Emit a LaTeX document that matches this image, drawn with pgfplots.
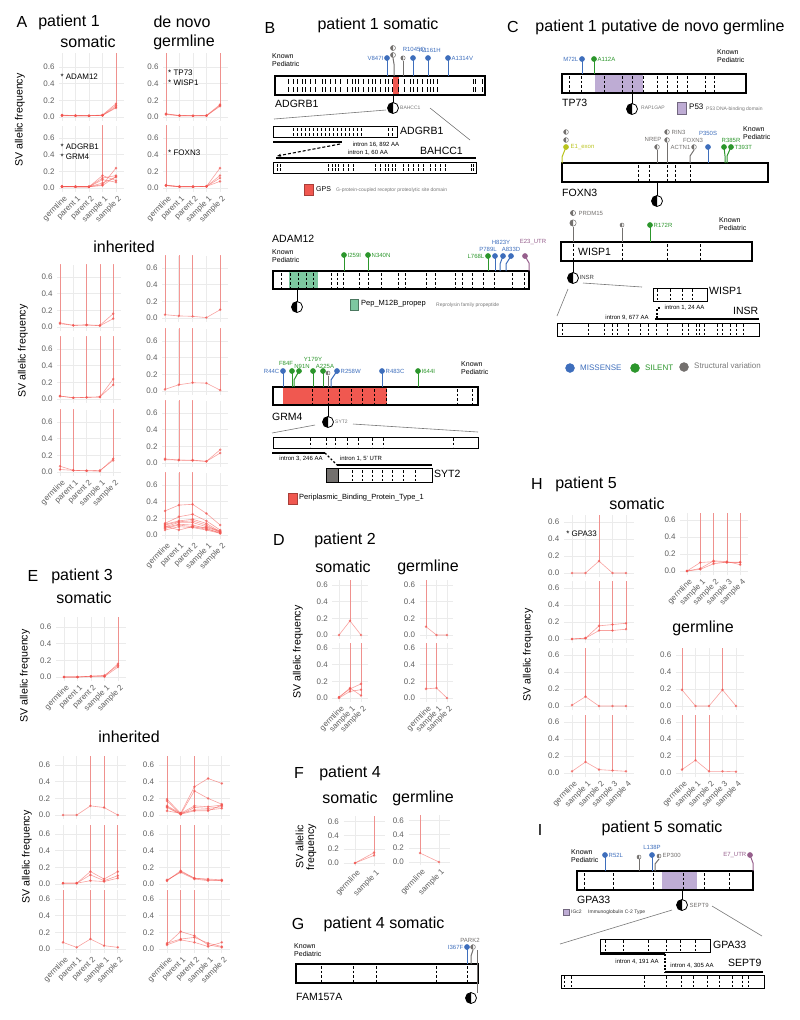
\documentclass[border=0pt]{standalone}
\usepackage{fontspec}
\setmainfont{Liberation Sans}
\usepackage{pgfplots}
\pgfplotsset{compat=1.18}
\usetikzlibrary{arrows.meta}

\definecolor{afred}{RGB}{242,85,80}
\definecolor{gridgrey}{RGB}{235,235,235}
\definecolor{tickgrey}{RGB}{95,95,95}
\definecolor{mis}{RGB}{62,110,188}
\definecolor{sil}{RGB}{44,150,44}
\definecolor{svc}{RGB}{115,112,110}
\definecolor{utr}{RGB}{150,95,140}
\definecolor{exo}{RGB}{185,195,30}
\definecolor{gps}{RGB}{240,88,80}
\definecolor{pep}{RGB}{125,200,160}
\definecolor{p53}{RGB}{190,172,212}
\definecolor{dgrey}{RGB}{120,120,120}

\newcommand\fs[1]{\fontsize{#1}{#1}\selectfont}

\pgfplotsset{
  af/.style={anchor=origin, y=83pt, ymin=-0.05, ymax=0.75, xmin=-0.6, xmax=4.6,
    axis line style={draw=none}, major tick style={draw=none},
    xmajorgrids, ymajorgrids, major grid style={draw=gridgrey, line width=0.7pt},
    ytick={0,0.2,0.4,0.6}, xtick={0,...,4}, xticklabels={},
    yticklabel style={font=\fs{8}, text=tickgrey, inner sep=1.5pt, xshift=-3pt,
      /pgf/number format/fixed, /pgf/number format/fixed zerofill,
      /pgf/number format/precision=1, /pgf/number format/assume math mode=true},
    xticklabel style={font=\fs{8}, text=tickgrey, rotate=45, anchor=north east, inner sep=1pt, yshift=-2pt}},
  afl/.style={afred, opacity=0.55, line width=0.6pt, mark=*, mark size=1pt},
  vred/.style={afred, opacity=0.6, line width=0.6pt},
  five/.style={xticklabels={germline,parent 1,parent 2,sample 1,sample 2}},
  samp/.style={xticklabels={germline,sample 1,sample 2,sample 3,sample 4}},
  three/.style={xtick={0,1,2}, xmax=2.6, xticklabels={germline,sample 1,sample 2}},
  two/.style={xtick={0,1}, xmax=1.6, xticklabels={germline,sample 1}},
}
\tikzset{
  bx/.style={line width=1.1pt, black},
  dsh/.style={line width=0.9pt, dash pattern=on 2.5pt off 2pt},
  tk/.style={line width=0.8pt},
  lbl/.style={font=\fs{6}, inner sep=0.5pt},
  gn/.style={font=\fs{10.5}, inner sep=0pt, anchor=west},
  ttl/.style={font=\fs{16}, inner sep=0pt},
  kp/.style={font=\fontsize{7}{8.4}\selectfont, align=left, anchor=north west, inner sep=0pt},
  sm/.style={font=\fs{5}, text=dgrey, inner sep=0pt, anchor=west},
  yl/.style={font=\fs{10.6}, rotate=90, inner sep=0pt, align=center},
  afn/.style={font=\fontsize{8}{9.6}\selectfont, anchor=west, align=left, inner sep=0pt},
}

\newcommand\fv[5]{\addplot[afl] coordinates {(0,#1)(1,#2)(2,#3)(3,#4)(4,#5)};}
\newcommand\tv[3]{\addplot[afl] coordinates {(0,#1)(1,#2)(2,#3)};}
\newcommand\wv[2]{\addplot[afl] coordinates {(0,#1)(1,#2)};}
\newcommand\vl[2]{\addplot[vred] coordinates {(#1,#2)(#1,1)};}

\newcommand\lol[4]{\addplot[#1, line width=1pt, mark=*, mark size=2.3pt, mark indices={2}] coordinates {(#2,#3)(#2,#4)};}
\newcommand\lolb[7]{\addplot[#1, line width=1pt, mark=*, mark size=2.3pt, mark indices={3}] coordinates {(#2,#3)(#4,#5)(#6,#7)};}
\newcommand\dsh[3]{\pgfplotsinvokeforeach{#1}{\draw[dsh] (##1,#2)--(##1,#3);}}
\newcommand\tks[3]{\pgfplotsinvokeforeach{#1}{\draw[tk] (##1,#2)--(##1,#3);}}
\newcommand\hm[4]{\draw[#1, fill=white, line width=0.5pt] (#2,#3) circle[radius=#4pt];
  \fill[#1] (#2,#3) +(0pt,#4pt) arc[start angle=90, end angle=270, radius=#4pt] -- cycle;}
\newcommand\fus[2]{\draw[black, fill=white, line width=0.8pt] (#1,#2) circle[radius=5.5pt];
  \fill[black] (#1,#2) +(0pt,5.5pt) arc[start angle=90, end angle=270, radius=5.5pt] -- cycle;}

\begin{document}
\begin{tikzpicture}
\useasboundingbox (0,0) rectangle (800pt,-1020pt);

%================ canvas for titles and gene diagrams
\begin{axis}[at={(0pt,0pt)}, anchor=north west, scale only axis, width=800pt, height=1020pt,
  xmin=0, xmax=800, ymin=0, ymax=1020, y dir=reverse, hide axis, clip=false]

% ---------- panel titles
\node[ttl] at (22,22) {A};
\node[ttl] at (69,22) {patient 1};
\node[ttl] at (88,42) {somatic};
\node[ttl] at (182,22) {de novo};
\node[ttl] at (184,42) {germline};
\node[ttl] at (124,247) {inherited};
\node[yl] at (20,120) {SV allelic frequency};
\node[yl] at (23,351) {SV allelic frequency};

\node[ttl] at (33,576) {E};
\node[ttl] at (82,576) {patient 3};
\node[ttl] at (84,598) {somatic};
\node[ttl] at (129,737) {inherited};
\node[yl] at (25,676) {SV allelic frequency};
\node[yl] at (27,857) {SV allelic frequency};

\node[ttl] at (279,540) {D};
\node[ttl] at (345,540) {patient 2};
\node[ttl] at (343,567) {somatic};
\node[ttl] at (428,567) {germline};
\node[yl] at (298,652) {SV allelic frequency};

\node[ttl] at (299,773) {F};
\node[ttl] at (350,773) {patient 4};
\node[ttl] at (350,798) {somatic};
\node[ttl] at (423,798) {germline};
\node[yl] at (306,847) {SV allelic\\frequency};

\node[ttl] at (537,484) {H};
\node[ttl] at (586,484) {patient 5};
\node[ttl] at (637,504) {somatic};
\node[ttl] at (703,628) {germline};
\node[yl] at (528,655) {SV allelic frequency};

% ---------- B: ADGRB1 / BAHCC1
\node[ttl] at (270,28) {B};
\node[ttl] at (378,25) {patient 1 somatic};
\node[kp] at (272,53) {Known\\Pediatric};
\fill[gps] (393,76) rectangle (399,95);
\draw[bx] (275,76) rectangle (485,95);
\tks{288,293,297,302,305,310,315,322,325,330,335,340,347,352,355,358,363,368,372,375,380,385,388,392,398,404,410,413,417,422,427,430,433,437,473,475,482}{79}{84}
\tks{288,293,297,302,305,310,315,322,325,330,335,340,347,352,355,358,363,368,372,375,380,385,388,392,398,404,410,413,417,422,427,430,433,437,473,475,482}{87}{92}
\lol{mis}{387}{76}{58}
\node[lbl, text=mis, anchor=east] at (384,58) {V847I};
\addplot[svc, line width=1pt] coordinates {(394,76)(394,64)(393,58)};
\hm{svc}{393}{55}{2.5}
\hm{svc}{393}{48}{2.5}
\addplot[svc, line width=1pt] coordinates {(403,76)(403,61)};
\hm{svc}{403}{58}{2.2}
\lol{mis}{413}{76}{58}
\node[lbl, text=mis] at (414,50) {R1045Q};
\lol{mis}{428}{76}{58}
\node[lbl, text=mis] at (430,50) {R1161H};
\lol{mis}{448}{76}{58}
\node[lbl, text=mis, anchor=west] at (451,58) {A1314V};
\node[gn] at (275,104) {ADGRB1};
\draw[line width=1pt] (393,95)--(393,103);
\fus{393}{108}
\node[sm] at (400,108) {BAHCC1};
\draw[dgrey, line width=0.6pt] (386,110)--(274,119);
\draw[dgrey, line width=0.6pt] (430,108)--(470,140);
\draw[line width=0.9pt] (273,126) rectangle (397,137);
\tks{293,297,301,305,309,313,317,321,325,329,333,337,341,345,349,353,357,361,388,392}{128}{131}
\tks{293,297,301,305,309,313,317,321,325,329,333,337,341,345,349,353,357,361,388,392}{133}{136}
\node[gn] at (400,131) {ADGRB1};
\draw[line width=1.1pt] (273,142)--(342,142);
\draw[line width=1.1pt, dash pattern=on 3pt off 2pt, -{Stealth[length=4pt]}] (340,144)--(277,156);
\node[lbl] at (376,145) {intron 16, 892 AA};
\node[lbl] at (368,153) {intron 1, 60 AA};
\draw[line width=1.1pt] (276,158)--(476,158);
\node[gn] at (420,151) {BAHCC1};
\draw[line width=0.9pt] (273,162) rectangle (476,173);
\tks{277,280,328,332,335,338,343,348,353,375,380,385,388,392,395,403,408,413,418,423,430,435,440,445,471,473}{164}{167}
\tks{277,280,328,332,335,338,343,348,353,375,380,385,388,392,395,403,408,413,418,423,430,435,440,445,471,473}{168}{171}
\filldraw[fill=gps, draw=gps!70!black, line width=0.5pt] (304,184) rectangle (313,195);
\node[font=\fs{7}, anchor=west, inner sep=0pt] at (316,189) {GPS};
\node[sm] at (336,190) {G-protein-coupled receptor proteolytic site domain};

% ---------- B: ADAM12
\node[gn] at (272,239) {ADAM12};
\node[kp] at (272,249) {Known\\Pediatric};
\fill[pep] (289,271) rectangle (318,289);
\draw[bx] (273,271) rectangle (529,289);
\dsh{281,290,298,306,313,331,337,343,359,368,381,398,405,426,435,455,462,472,483,494,512,524}{273}{288}
\lol{sil}{344}{271}{255}
\node[lbl, text=sil, anchor=west] at (347,255) {I259I};
\lol{sil}{368}{271}{255}
\node[lbl, text=sil, anchor=west] at (371,255) {N340N};
\lol{sil}{488}{271}{256}
\node[lbl, text=sil, anchor=east] at (485,256) {L768L};
\lol{mis}{495}{271}{256}
\node[lbl, text=mis] at (488,249) {P789L};
\lolb{mis}{500}{271}{500}{264}{503}{256}
\node[lbl, text=mis] at (501,242) {H823Y};
\lolb{mis}{506}{271}{506}{264}{511}{256}
\node[lbl, text=mis] at (511,249) {A833D};
\lolb{utr}{529}{271}{529}{263}{525}{256}
\node[lbl, text=utr] at (533,242) {E23\_UTR};
\draw[line width=1pt] (297,289)--(297,302);
\fus{297}{307}
\filldraw[fill=pep, draw=pep!60!black, line width=0.5pt] (350,299) rectangle (358,310);
\node[font=\fs{7.5}, anchor=west, inner sep=0pt] at (361,304) {Pep\_M12B\_propep};
\node[sm] at (436,305) {Reprolysin family propeptide};

% ---------- B: GRM4 / SYT2
\fill[gps] (283,387) rectangle (387,405);
\draw[bx] (273,387) rectangle (478,405);
\dsh{312,328,339,351,362,374,386,457,472}{389}{404}
\lol{mis}{283}{387}{371}
\node[lbl, text=mis, anchor=east] at (280,371) {R44C};
\lol{sil}{292}{387}{371}
\node[lbl, text=sil] at (286,363) {F84F};
\lolb{sil}{294}{387}{294}{380}{299}{371}
\node[lbl, text=sil] at (302,366) {N91N};
\lol{sil}{313}{387}{371}
\node[lbl, text=sil] at (313,359) {Y179Y};
\lol{sil}{323}{387}{371}
\node[lbl, text=sil] at (325,366) {A225A};
\addplot[svc, line width=1pt] coordinates {(328,387)(328,376)};
\hm{svc}{328}{373}{2}
\lolb{mis}{331}{387}{331}{380}{337}{371}
\node[lbl, text=mis, anchor=west] at (340,371) {R258W};
\lol{mis}{382}{387}{371}
\node[lbl, text=mis, anchor=west] at (385,371) {R483C};
\lol{sil}{418}{387}{371}
\node[lbl, text=sil, anchor=west] at (421,371) {I644I};
\node[kp] at (461,361) {Known\\Pediatric};
\node[gn] at (272,417) {GRM4};
\draw[line width=1pt] (328,405)--(328,417);
\fus{328}{422}
\node[sm] at (335,422) {SYT2};
\draw[dgrey, line width=0.6pt] (272,433)--(315,425);
\draw[dgrey, line width=0.6pt] (353,424)--(478,432);
\draw[line width=0.9pt] (273,437) rectangle (478,448);
\dsh{310,326,335,347,358,372,383,453}{438}{447}
\draw[line width=1.1pt] (272,453)--(325,453);
\draw[line width=1.1pt, dash pattern=on 2pt off 2pt] (325,453)--(337,465);
\draw[line width=1.1pt] (337,465)--(432,465);
\node[lbl] at (301,459) {intron 3, 246 AA};
\node[lbl] at (361,459) {intron 1, 5' UTR};
\filldraw[fill=svc, draw=black, line width=0.9pt] (326,468) rectangle (338,482);
\draw[line width=0.9pt] (338,468) rectangle (432,482);
\dsh{352,362,372,382,392,403,415}{470}{481}
\node[gn] at (434,474) {SYT2};
\filldraw[fill=gps, draw=gps!70!black, line width=0.5pt] (288,493) rectangle (297,504);
\node[font=\fs{7.5}, anchor=west, inner sep=0pt] at (299,498) {Periplasmic\_Binding\_Protein\_Type\_1};

% ---------- C: TP73
\node[ttl] at (513,27) {C};
\node[ttl] at (660,27) {patient 1 putative de novo germline};
\fill[p53] (595,74) rectangle (643,93);
\draw[bx] (562,74) rectangle (746,93);
\dsh{569,581,604,622,632,643,657,667,677,687,705,714}{76}{92}
\lol{mis}{582}{74}{59}
\node[lbl, text=mis, anchor=east] at (579,59) {M72L};
\lol{sil}{594}{74}{59}
\node[lbl, text=sil, anchor=west] at (597,59) {A112A};
\node[kp] at (717,49) {Known\\Pediatric};
\node[gn] at (562,103) {TP73};
\draw[line width=1pt] (632,93)--(632,104);
\fus{632}{109}
\node[sm] at (641,108) {RAP1GAP};
\filldraw[fill=p53, draw=p53!60!black, line width=0.5pt] (677,102) rectangle (686,114);
\node[font=\fs{8}, anchor=west, inner sep=0pt] at (689,107) {P53};
\node[sm] at (706,109) {P53 DNA-binding domain};

% ---------- C: FOXN3
\draw[bx] (562,163) rectangle (768,182);
\dsh{638,649,667,675,690}{165}{181}
\lolb{exo}{562}{163}{562}{157}{566}{147}
\hm{svc}{566}{140}{2.4}
\hm{svc}{566}{132}{2.4}
\node[lbl, text=exo, anchor=west] at (570,147) {E1\_exon};
\addplot[svc, line width=1pt] coordinates {(657,163)(657,150)};
\hm{svc}{657}{147}{2.4}
\node[lbl, text=svc] at (653,139) {NREP};
\addplot[svc, line width=1pt] coordinates {(667,163)(667,143)};
\hm{svc}{667}{140}{2.4}
\hm{svc}{667}{132}{2.4}
\node[lbl, text=svc, anchor=west] at (671,132) {RIN3};
\node[lbl, text=svc, anchor=west] at (670,147) {ACTN1};
\node[lbl, text=svc] at (693,140) {FOXN3};
\addplot[svc, line width=1pt] coordinates {(690,163)(690,156)(694,150)};
\hm{svc}{694}{147}{2.4}
\lol{mis}{708}{163}{147}
\node[lbl, text=mis] at (708,133) {P350S};
\lolb{sil}{725}{163}{725}{156}{724}{147}
\node[lbl, text=sil] at (731,140) {R385R};
\lolb{sil}{727}{163}{727}{156}{731}{147}
\node[lbl, text=sil, anchor=west] at (734,147) {T393T};
\node[kp] at (743,126) {Known\\Pediatric};
\node[gn] at (562,193) {FOXN3};
\draw[line width=1pt] (657,182)--(657,196);
\fus{657}{201}

% ---------- C: WISP1 / INSR
\draw[bx] (561,242) rectangle (752,261);
\dsh{573,622,667,700}{244}{260}
\node[gn] at (578,252) {WISP1};
\addplot[svc, line width=1pt] coordinates {(573,242)(573,227)};
\hm{svc}{573}{223}{3.2}
\hm{svc}{573}{213}{2.6}
\node[lbl, text=svc, anchor=west] at (578,213) {PRDM15};
\addplot[svc, line width=1pt] coordinates {(622,242)(622,228)};
\hm{svc}{622}{225}{2}
\lol{sil}{650}{242}{225}
\node[lbl, text=sil, anchor=west] at (653,225) {R172R};
\node[kp] at (719,217) {Known\\Pediatric};
\draw[line width=1pt] (573,261)--(573,273);
\fus{573}{278}
\node[lbl, text=black!75, anchor=west] at (579,277) {INSR};
\draw[dgrey, line width=0.6pt] (568,289)--(557,316);
\draw[dgrey, line width=0.6pt] (583,283)--(642,287);
\draw[line width=0.9pt] (653,288) rectangle (707,301);
\dsh{657,670,682,692}{289}{300}
\node[gn] at (709,291) {WISP1};
\draw[line width=1.1pt, dash pattern=on 2pt off 1.5pt] (657,318)--(657,308)--(661,308);
\node[lbl, anchor=west] at (664,308) {intron 1, 24 AA};
\draw[line width=1.1pt] (655,319)--(759,319);
\node[gn] at (733,311) {INSR};
\node[lbl] at (627,318) {intron 9, 677 AA};
\draw[line width=0.9pt] (557,323) rectangle (759,336);
\dsh{562,588,604,612,617,628,640,648,656,667,682,688,696,699,704,717,722,730,736,743}{324}{335}
\addplot[only marks, mark=*, mark size=4.5pt, color=mis] coordinates {(570,368)};
\addplot[only marks, mark=*, mark size=4.5pt, color=sil] coordinates {(635,368)};
\addplot[only marks, mark=*, mark size=4.5pt, color=svc] coordinates {(684,367)};
\node[font=\fs{8}, text=mis, anchor=west, inner sep=0pt] at (580,368) {MISSENSE};
\node[font=\fs{8}, text=sil, anchor=west, inner sep=0pt] at (645,368) {SILENT};
\node[font=\fs{8}, text=dgrey, anchor=west, inner sep=0pt] at (694,366) {Structural variation};

% ---------- G: FAM157A
\node[ttl] at (298,924) {G};
\node[ttl] at (384,924) {patient 4 somatic};
\node[kp] at (294,943) {Known\\Pediatric};
\draw[bx] (296,964) rectangle (478,983);
\dsh{321,353,376,436,467}{966}{982}
\lol{mis}{467}{964}{947}
\node[lbl, text=mis, anchor=east] at (464,947) {I367F};
\node[lbl, text=svc] at (470,940) {PARK2};
\addplot[svc, line width=1pt] coordinates {(471,964)(471,956)(473,950)};
\hm{svc}{473}{947}{2.4}
\draw[svc, line width=1pt] (477,950)--(477,993);
\fus{471}{998}
\node[gn] at (296,997) {FAM157A};

% ---------- I: GPA33 / SEPT9
\node[ttl] at (540,830) {I};
\node[ttl] at (662,828) {patient 5 somatic};
\node[kp] at (571,849) {Known\\Pediatric};
\fill[p53] (662,871) rectangle (697,890);
\draw[bx] (577,871) rectangle (753,890);
\dsh{584,613,653,683,704,729}{873}{889}
\lol{mis}{605}{871}{855}
\node[lbl, text=mis, anchor=west] at (608,855) {R52L};
\addplot[svc, line width=1pt] coordinates {(639,871)(639,859)};
\hm{svc}{639}{857}{2}
\lol{mis}{652}{871}{855}
\node[lbl, text=mis] at (652,847) {L138P};
\addplot[svc, line width=1pt] coordinates {(655,871)(655,864)(659,859)};
\hm{svc}{659}{856}{2}
\node[lbl, text=svc, anchor=west] at (662,855) {EP300};
\lolb{utr}{753}{871}{753}{863}{750}{855}
\node[lbl, text=utr, anchor=east] at (747,855) {E7\_UTR};
\node[gn] at (577,900) {GPA33};
\filldraw[fill=p53, draw=p53!60!black, line width=0.4pt] (563,909) rectangle (569,915);
\node[sm, text=black!80] at (571,912) {IGc2};
\node[sm, text=black!80] at (588,912) {Immunoglobulin C-2 Type};
\draw[line width=1pt] (682,890)--(682,900);
\fus{682}{905}
\node[lbl, text=svc, anchor=west] at (689,905) {SEPT9};
\draw[dgrey, line width=0.6pt] (672,910)--(560,944);
\draw[dgrey, line width=0.6pt] (712,906)--(762,936);
\draw[line width=0.9pt] (600,939) rectangle (710,952);
\dsh{605,623,648,666,680,695}{940}{951}
\node[gn] at (713,945) {GPA33};
\draw[line width=1.1pt] (600,954)--(665,954);
\draw[line width=1.1pt, dash pattern=on 2pt off 1.5pt] (665,954)--(665,972);
\draw[line width=1.1pt] (665,972)--(763,972);
\node[lbl] at (637,962) {intron 4, 191 AA};
\node[lbl] at (692,966) {intron 4, 305 AA};
\node[gn] at (728,963) {SEPT9};
\draw[line width=0.9pt] (561,975) rectangle (764,988);
\dsh{564,571,644,666,681,693,707,719,732,742,748}{976}{987}
\end{axis}

%================ allelic frequency panels
% ---- A somatic
\begin{axis}[af, at={(62pt,-117pt)}, x=13.5pt, xmin=-0.2, ymax=0.77]
\fv{0.02}{0.015}{0.015}{0.02}{0.12}
\fv{0.025}{0.015}{0.015}{0.02}{0.14}
\fv{0.02}{0.02}{0.015}{0.025}{0.16}
\fv{0.015}{0.015}{0.015}{0.02}{0.11}
\vl{4}{0.11}
\node[afn] at (-0.12,0.49) {* ADAM12};
\end{axis}
\begin{axis}[af, five, at={(62pt,-188pt)}, x=13.5pt, xmin=-0.2]
\fv{0.015}{0.015}{0.015}{0.03}{0.14}
\fv{0.02}{0.015}{0.015}{0.04}{0.24}
\fv{0.015}{0.015}{0.015}{0.15}{0.09}
\fv{0.02}{0.015}{0.015}{0.10}{0.07}
\fv{0.015}{0.02}{0.015}{0.06}{0.13}
\fv{0.02}{0.015}{0.015}{0.12}{0.15}
\vl{3}{0.03}
\node[afn] at (-0.12,0.44) {* ADGRB1\\* GRM4};
\end{axis}
% ---- A de novo
\begin{axis}[af, at={(166pt,-117pt)}, x=13.5pt, xmin=-0.2, ymax=0.77]
\fv{0.04}{0.015}{0.015}{0.015}{0.13}
\fv{0.03}{0.015}{0.015}{0.02}{0.15}
\fv{0.035}{0.02}{0.015}{0.015}{0.14}
\vl{0}{0.03}
\vl{4}{0.13}
\node[afn] at (0.15,0.47) {* TP73\\* WISP1};
\end{axis}
\begin{axis}[af, five, at={(166pt,-188pt)}, x=13.5pt, xmin=-0.2]
\fv{0.03}{0.015}{0.015}{0.02}{0.24}
\fv{0.035}{0.015}{0.015}{0.02}{0.15}
\fv{0.03}{0.02}{0.015}{0.02}{0.12}
\fv{0.03}{0.015}{0.02}{0.02}{0.08}
\vl{0}{0.03}
\node[afn] at (0.15,0.42) {* FOXN3};
\end{axis}
% ---- A inherited, left
\begin{axis}[af, at={(60pt,-327pt)}, x=13.3pt, xmin=-0.2]
\fv{0.05}{0.02}{0.025}{0.02}{0.16}
\fv{0.04}{0.02}{0.025}{0.015}{0.10}
\vl{0}{0.04}\vl{2}{0.025}\vl{3}{0.015}\vl{4}{0.10}
\end{axis}
\begin{axis}[af, at={(60pt,-399pt)}, x=13.3pt, xmin=-0.2]
\fv{0.035}{0.015}{0.02}{0.025}{0.24}
\fv{0.035}{0.015}{0.02}{0.025}{0.17}
\vl{0}{0.035}\vl{2}{0.02}\vl{3}{0.025}\vl{4}{0.17}
\end{axis}
\begin{axis}[af, five, at={(60pt,-472pt)}, x=13.3pt, xmin=-0.2]
\fv{0.07}{0.02}{0.015}{0.01}{0.16}
\fv{0.03}{0.02}{0.015}{0.02}{0.14}
\vl{0}{0.03}\vl{1}{0.02}\vl{4}{0.14}
\end{axis}
% ---- A inherited, right
\begin{axis}[af, at={(165pt,-318pt)}, x=13.8pt, xmin=-0.2]
\fv{0.04}{0.025}{0.02}{0.005}{0.10}
\vl{0}{0.04}\vl{1}{0.025}\vl{2}{0.02}\vl{4}{0.10}
\end{axis}
\begin{axis}[af, at={(165pt,-391pt)}, x=13.8pt, xmin=-0.2]
\fv{0.02}{0.075}{0.10}{0.095}{0.01}
\vl{0}{0.02}\vl{1}{0.075}\vl{2}{0.10}\vl{4}{0.01}
\end{axis}
\begin{axis}[af, at={(165pt,-463pt)}, x=13.8pt, xmin=-0.2]
\fv{0.05}{0.035}{0.035}{0.02}{0.16}
\fv{0.04}{0.035}{0.03}{0.02}{0.12}
\vl{0}{0.04}\vl{1}{0.035}\vl{2}{0.03}
\end{axis}
\begin{axis}[af, five, at={(165pt,-535pt)}, x=13.8pt, xmin=-0.2]
\fv{0.29}{0.36}{0.37}{0.26}{0.12}
\fv{0.14}{0.22}{0.25}{0.17}{0.06}
\fv{0.13}{0.17}{0.19}{0.14}{0.04}
\fv{0.12}{0.16}{0.17}{0.12}{0.03}
\fv{0.10}{0.15}{0.15}{0.10}{0.05}
\fv{0.09}{0.13}{0.12}{0.08}{0.02}
\fv{0.08}{0.12}{0.10}{0.07}{0.03}
\fv{0.06}{0.10}{0.09}{0.06}{0.02}
\fv{0.11}{0.06}{0.10}{0.09}{0.04}
\vl{0}{0.06}\vl{1}{0.06}\vl{2}{0.09}
\end{axis}

% ---- E somatic
\begin{axis}[af, five, at={(64pt,-677pt)}, x=13.5pt, ymax=0.72]
\fv{0}{0}{0.01}{0.01}{0.16}
\fv{0}{0}{0.005}{0.005}{0.12}
\fv{0}{0}{0.01}{0.02}{0.14}
\vl{4}{0.12}
\end{axis}
% ---- E inherited, left
\begin{axis}[af, at={(63pt,-815pt)}, x=13.7pt, ymax=0.71]
\fv{0}{0}{0.11}{0.09}{0}
\vl{2}{0.11}\vl{3}{0.09}
\end{axis}
\begin{axis}[af, at={(63pt,-884pt)}, x=13.7pt, ymax=0.71]
\fv{0.01}{0.01}{0.15}{0.06}{0.15}
\fv{0.01}{0.01}{0.11}{0.04}{0.10}
\fv{0.01}{0.01}{0.04}{0.03}{0.07}
\vl{2}{0.04}\vl{3}{0.03}\vl{4}{0.07}
\end{axis}
\begin{axis}[af, five, at={(63pt,-949pt)}, x=13.7pt, ymax=0.71]
\fv{0.08}{0.02}{0.12}{0.04}{0.02}
\vl{0}{0.08}\vl{2}{0.12}\vl{3}{0.04}
\end{axis}
% ---- E inherited, right
\begin{axis}[af, at={(167pt,-815pt)}, x=13.7pt, ymax=0.71]
\fv{0.19}{0.02}{0.34}{0.44}{0.38}
\fv{0.17}{0.01}{0.29}{0.20}{0.13}
\fv{0.11}{0.02}{0.11}{0.10}{0.12}
\fv{0.09}{0.01}{0.09}{0.08}{0.10}
\fv{0.05}{0.02}{0.06}{0.06}{0.08}
\fv{0.10}{0.01}{0.05}{0.05}{0.12}
\vl{0}{0.05}\vl{2}{0.05}
\end{axis}
\begin{axis}[af, at={(167pt,-884pt)}, x=13.7pt, ymax=0.71]
\fv{0.04}{0.16}{0.07}{0.05}{0.04}
\fv{0.05}{0.14}{0.06}{0.04}{0.04}
\fv{0.04}{0.15}{0.07}{0.06}{0.05}
\vl{1}{0.14}\vl{2}{0.06}
\end{axis}
\begin{axis}[af, five, at={(167pt,-949pt)}, x=13.7pt, ymax=0.71]
\fv{0.06}{0.21}{0.16}{0.05}{0.02}
\fv{0.07}{0.12}{0.14}{0.07}{0.03}
\fv{0.05}{0.11}{0.08}{0.03}{0.08}
\vl{0}{0.05}\vl{1}{0.11}\vl{2}{0.08}
\end{axis}

% ---- D patient 2
\begin{axis}[af, three, xticklabels={}, at={(339pt,-635pt)}, x=11pt, ymax=0.66]
\tv{0}{0.17}{0}
\vl{1}{0.17}
\end{axis}
\begin{axis}[af, three, at={(339pt,-698pt)}, x=11pt, ymax=0.66]
\tv{0.01}{0.11}{0.17}
\tv{0}{0.08}{0.10}
\tv{0.01}{0.12}{0.03}
\vl{1}{0.08}\vl{2}{0.03}
\end{axis}
\begin{axis}[af, three, xticklabels={}, at={(426pt,-635pt)}, x=10.5pt, ymax=0.66]
\tv{0.1}{0}{0}
\vl{0}{0.1}
\end{axis}
\begin{axis}[af, three, at={(426pt,-698pt)}, x=10.5pt, ymax=0.66]
\tv{0.11}{0.12}{0}
\vl{0}{0.11}\vl{1}{0.12}
\end{axis}

% ---- F patient 4
\begin{axis}[af, two, at={(355pt,-863pt)}, x=19pt, y=69pt, ymax=0.68]
\wv{0}{0.15}
\wv{0}{0.11}
\vl{1}{0.11}
\end{axis}
\begin{axis}[af, two, at={(420pt,-862pt)}, x=19pt, y=69pt, ymax=0.68]
\wv{0.13}{0}
\vl{0}{0.13}
\end{axis}

% ---- H patient 5 somatic, left
\begin{axis}[af, at={(572pt,-573pt)}, x=13.5pt, y=85pt, ymax=0.68]
\fv{0}{0}{0.14}{0}{0}
\vl{2}{0.14}
\node[afn] at (-0.44,0.46) {* GPA33};
\end{axis}
\begin{axis}[af, at={(572pt,-639pt)}, x=13.5pt, y=85pt, ymax=0.68]
\fv{0}{0.01}{0.155}{0.17}{0.185}
\fv{0}{0.01}{0.10}{0.10}{0.115}
\vl{2}{0.10}\vl{3}{0.10}\vl{4}{0.115}
\end{axis}
\begin{axis}[af, at={(572pt,-706pt)}, x=13.5pt, y=85pt, ymax=0.68]
\fv{0.01}{0.11}{0}{0}{0}
\vl{1}{0.11}
\end{axis}
\begin{axis}[af, samp, at={(572pt,-773pt)}, x=13.5pt, y=85pt, ymax=0.68]
\fv{0.02}{0.13}{0.04}{0.03}{0.02}
\vl{1}{0.13}\vl{3}{0.03}
\end{axis}
% ---- H somatic, right
\begin{axis}[af, samp, at={(687pt,-571pt)}, x=13.3pt, y=85pt, ymax=0.68, xmin=-0.5]
\fv{0}{0.10}{0.11}{0.10}{0.10}
\fv{0}{0.03}{0.12}{0.11}{0.075}
\fv{0}{0.02}{0.085}{0.105}{0.105}
\vl{1}{0.02}\vl{2}{0.085}\vl{3}{0.10}\vl{4}{0.075}
\end{axis}
% ---- H germline
\begin{axis}[af, at={(682pt,-706pt)}, x=13.5pt, y=85pt, ymax=0.68, xmin=-0.45]
\fv{0.19}{0}{0}{0.19}{0}
\vl{0}{0.19}\vl{3}{0.19}
\end{axis}
\begin{axis}[af, samp, at={(682pt,-773pt)}, x=13.5pt, y=85pt, ymax=0.68, xmin=-0.45]
\fv{0.04}{0.15}{0.02}{0.02}{0.015}
\vl{0}{0.04}\vl{1}{0.15}\vl{2}{0.02}
\end{axis}
\end{tikzpicture}
\end{document}
